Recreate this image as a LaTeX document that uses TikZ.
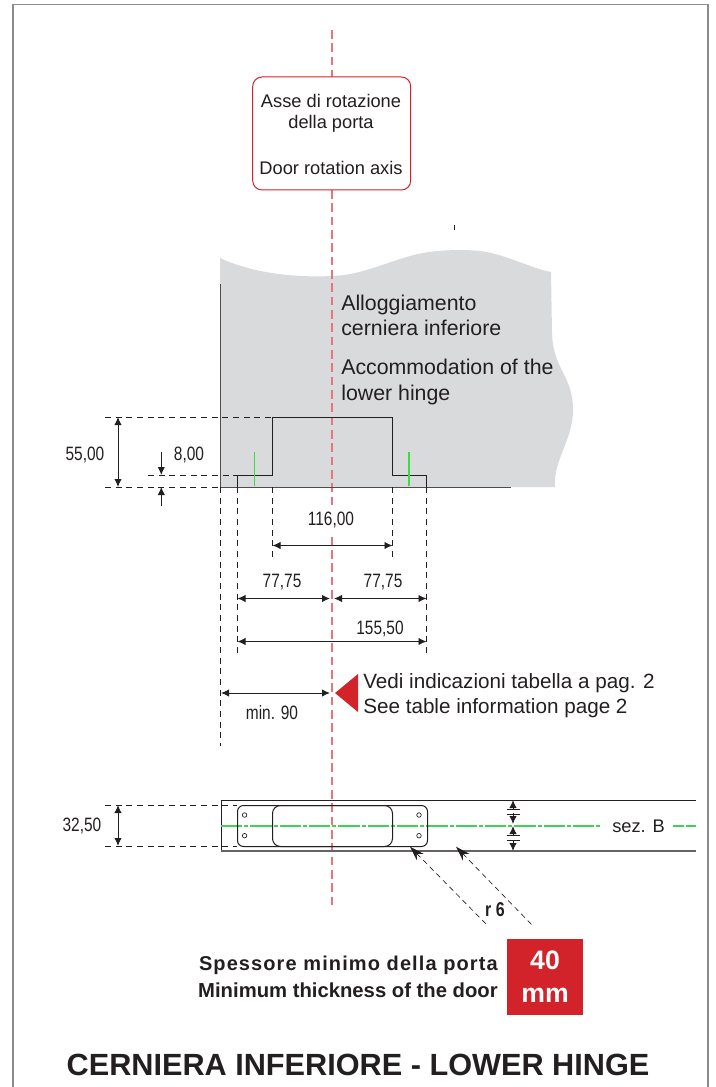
\documentclass[tikz,border=0pt]{standalone}
\usepackage{fontspec}
\setmainfont{Liberation Sans}
\newfontfamily\dimfont[FakeStretch=0.8]{Liberation Sans}
\newfontfamily\spacedfont[LetterSpace=5.5]{Liberation Sans}
\usepackage{tikz}
\usetikzlibrary{positioning, arrows.meta}
\definecolor{doorgray}{HTML}{D9DADC}
\definecolor{framegray}{HTML}{8C8C8C}
\definecolor{axisred}{HTML}{E5767F}
\definecolor{signred}{HTML}{D2232A}
\definecolor{inkblack}{HTML}{231F20}
\definecolor{slotgreen}{HTML}{35E03C}
\definecolor{axisgreen}{HTML}{3FD058}
\tikzset{
	dimline/.style = {inkblack, line width = 0.7pt, {Latex[length=6pt,width=5.5pt]}-{Latex[length=6pt,width=5.5pt]}},
	dimarrow/.style = {inkblack, line width = 0.7pt, -{Latex[length=6pt,width=5.5pt]}},
	extline/.style = {inkblack, line width = 0.6pt, dash pattern = on 4.5pt off 3.5pt},
	dimlabel/.style = {inkblack, font = \dimfont\fontsize{14.5}{16}\selectfont, inner sep = 0pt},
	notetext/.style = {inkblack, font = \fontsize{15.5}{19}\selectfont, inner sep = 0pt, anchor = west},
	boxtext/.style = {inkblack, font = \fontsize{13.7}{16}\selectfont, inner sep = 0pt},
	lodgetext/.style = {notetext, font = \fontsize{16}{19}\selectfont},
	centerline/.style = {axisgreen, line width = 1.2pt},
}
\begin{document}
\begin{tikzpicture}[x=0.75pt, y=-0.75pt]
		\useasboundingbox (0,0) rectangle (716,1087);
		
		\fill[doorgray] (220,258) .. controls (250,272) and (290,278) .. (333,276) .. controls (360,275) and (385,263) .. (410,256) .. controls (430,250) and (460,249) .. (480,251) .. controls (505,254) and (530,268) .. (551,272) -- (552,333) .. controls (553,370) and (573,375) .. (573,410) .. controls (573,440) and (553,460) .. (555,487) -- (220,487) -- cycle;
		
		\draw[framegray, line width = 1.2pt] (13,1087) -- (13,4.7) -- (708,4.7) -- (708,1087);
		\draw[axisred, line width = 1.1pt, dash pattern = on 6.5pt off 3.5pt] (332,30) -- (332,908);
		
		\node[draw = signred, fill = white, rounded corners = 7pt, line width = 0.75pt, minimum width = 118.5pt, minimum height = 84.75pt, inner sep = 0pt] (axisbox) at (331.7,133.5) {};
		\node[boxtext] (axisit) at (331,101) {Asse di rotazione};
		\node[boxtext] (axisit2) at (331,124) {della porta};
		\node[boxtext] (axisen) at (331,168) {Door rotation axis};
		
		\draw[inkblack, line width = 0.4pt] (454,225) -- (454,230);
		
		% door edge and hinge pocket
		\draw[inkblack!80, line width = 0.75pt] (220.5,284) -- (220.5,487.5) -- (511,487.5);
		\draw[inkblack, line width = 0.7pt] (237.5,487.5) -- (237.5,475.5) -- (272.5,475.5) -- (272.5,417.5) -- (392.5,417.5) -- (392.5,475.5) -- (426.5,475.5) -- (426.5,487.5);
		\draw[slotgreen, line width = 0.8pt] (254.5,452) -- (254.5,486);
		\draw[slotgreen, line width = 0.8pt] (409,452) -- (409,486);
		
		\node[lodgetext] (lodgeit) at (341,305) {Alloggiamento};
		\node[lodgetext] (lodgeit2) at (341,328) {cerniera inferiore};
		\node[lodgetext] (lodgeen) at (341,367) {Accommodation of the};
		\node[lodgetext] (lodgeen2) at (341,395) {lower hinge};
		
		\draw[extline] (105,417.5) -- (272,417.5);
		\draw[extline] (105,487.5) -- (220,487.5);
		\draw[extline] (148,475.5) -- (237,475.5);
		\draw[extline] (220.5,487) -- (220.5,746);
		\draw[extline] (237.5,487) -- (237.5,655);
		\draw[extline] (426.5,487) -- (426.5,655);
		\draw[extline] (272.5,487) -- (272.5,558);
		\draw[extline] (392.5,487) -- (392.5,558);
		
		\draw[dimline] (118,417) -- (118,487);
		\draw[dimarrow] (161.3,452) -- (161.3,475);
		\draw[dimarrow] (161.3,506) -- (161.3,487);
		\draw[dimline] (272.5,545.5) -- (392.5,545.5);
		\draw[dimline] (237.5,598.5) -- (330,598.5);
		\draw[dimline] (334,598.5) -- (426.5,598.5);
		\draw[dimline] (237.5,641.5) -- (426.5,641.5);
		\draw[dimline] (221,693) -- (330,693);
		
		\node[dimlabel] (heightlabel) at (85,455) {55,00};
		\node[dimlabel] (steplabel) at (189,455) {8,00};
		\node[dimlabel, fill = white, minimum width = 20pt, minimum height = 22pt] (widthlabel) at (331,520) {116,00};
		\node[dimlabel] (halfleft) at (282,582) {77,75};
		\node[dimlabel] (halfright) at (383,582) {77,75};
		\node[dimlabel] (fullwidth) at (380,629) {155,50};
		\node[dimlabel] (minlabel) at (272,713) {min. 90};
		
		\fill[signred] (335,693) -- (358,674) -- (358,712) -- cycle;
		\node[notetext] (seeit) at (363,683) {Vedi indicazioni tabella a pag. 2};
		\node[notetext] (seeen) at (363,708) {See table information page 2};
		
		% section of the door
		\draw[inkblack, line width = 0.75pt] (696,800.5) -- (221,800.5) -- (221,851);
		\draw[inkblack!70, line width = 1pt] (221,851) -- (696,851);
		\draw[centerline, dash pattern = on 16pt off 1.5pt on 3pt off 1.5pt] (221,826) -- (602,826);
		\draw[centerline, dash pattern = on 8pt off 1.5pt] (673,826) -- (696,826);
		\node[boxtext] (seclabel) at (638.5,826.5) {sez. B};
		
		\draw[inkblack, line width = 0.75pt, rounded corners = 4.5pt] (237.5,805.5) rectangle (427.5,846.5);
		\draw[inkblack, line width = 0.75pt, rounded corners = 6pt] (272.5,805.5) rectangle (392.5,846.5);
		\foreach \holex in {244.6, 419}
			\foreach \holey in {815, 835.7}
				\draw[inkblack, line width = 0.5pt] (\holex,\holey) circle (1.7pt);
		
		\draw[extline] (105,805.5) -- (237,805.5);
		\draw[extline] (105,846.5) -- (237,846.5);
		\draw[dimline] (118,805) -- (118,846);
		\node[dimlabel] (thicklabel) at (82,826) {32,50};
		
		\foreach \secy in {800, 826}
			{
			\draw[dimarrow] (513,\secy+9) -- (513,\secy);
			\draw[inkblack, line width = 0.7pt] (506.5,\secy+9.5) -- (519.5,\secy+9.5) (506.5,\secy+14) -- (519.5,\secy+14);
			}
		\draw[dimarrow] (513,813) -- (513,824);
		\draw[dimarrow] (513,840) -- (513,851);
		
		\draw[inkblack, line width = 0.5pt, dash pattern = on 4pt off 3pt, {Stealth[length=11pt,width=7pt]}-] (410,846.7) -- (487,925);
		\draw[inkblack, line width = 0.5pt, dash pattern = on 4pt off 3pt, {Stealth[length=11pt,width=7pt]}-] (456,846.7) -- (532,925);
		\node[inkblack, fill = white, font = \dimfont\bfseries\fontsize{15}{16}\selectfont, inner sep = 1pt] (radiuslabel) at (495,910) {r 6};
		
		% minimum thickness
		\node[fill = signred, minimum width = 57pt, minimum height = 57pt, inner sep = 0pt] (thickbox) at (545,977) {};
		\node[white, font = \bfseries\fontsize{20}{24}\selectfont, inner sep = 0pt] (thicknum) at (545,960) {40};
		\node[white, font = \bfseries\fontsize{20}{24}\selectfont, inner sep = 0pt] (thickunit) at (545,995) {mm};
		\node[inkblack, font = \spacedfont\bfseries\fontsize{15}{16}\selectfont, inner sep = 0pt, anchor = east] (thickit) at (498,965) {Spessore minimo della porta};
		\node[inkblack, font = \bfseries\fontsize{15.2}{16}\selectfont, inner sep = 0pt, anchor = east] (thicken) at (498,990) {Minimum thickness of the door};
		
		\node[inkblack, font = \bfseries\fontsize{23}{26}\selectfont, inner sep = 0pt] (title) at (358,1065) {CERNIERA INFERIORE - LOWER HINGE};
		\end{tikzpicture}
\end{document}
